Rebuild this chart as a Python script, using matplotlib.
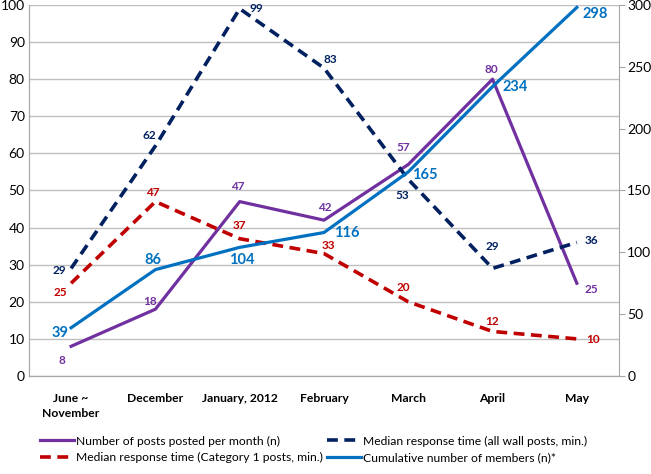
import matplotlib
matplotlib.use("Agg")
import matplotlib.pyplot as plt

plt.rcParams['font.family'] = ['Lato', 'DejaVu Sans']

# Data
months = ["June ~\nNovember", "December", "January, 2012", "February", "March", "April", "May"]
posts = [8, 18, 47, 42, 57, 80, 25]
median_all = [29, 62, 99, 83, 53, 29, 36]
median_cat1 = [25, 47, 37, 33, 20, 12, 10]
members = [39, 86, 104, 116, 165, 234, 298]

# label offsets (pixels) per point
posts_off = [(-9, -14), (-5, 8), (-2, 15), (1, 13), (-5, 17), (-1, 10), (15, -6)]
all_off = [(-12, -2), (-6, 10), (17, 0), (6, 9), (-6, -16), (0, 22), (15, 2)]
cat1_off = [(-11, -9), (-3, 9), (0, 13), (4, 8), (-5, 14), (0, 10), (16, -1)]
members_off = [(-11, -5), (-3, 10), (2, -13), (23, 0), (17, -3), (23, 0), (18, -7)]

PURPLE = "#7030A0"
NAVY = "#002060"
RED = "#C00000"
BLUE = "#0070C0"
GRID = "#BFBFBF"

fig = plt.figure(figsize=(6.51, 4.74), dpi=100)
ax = fig.add_axes([0.0445, 0.2068, 0.9063, 0.7827])
ax2 = ax.twinx()

x = list(range(len(months)))

ax.plot(x, posts, color=PURPLE, lw=2.3, label="Number of posts posted per month (n)", zorder=3)
ax.plot(x, median_cat1, color=RED, lw=2.6, dashes=(3, 1.8), label="Median response time (Category 1 posts, min.)", zorder=3)
ax.plot(x, median_all, color=NAVY, lw=2.6, dashes=(3, 1.8), label="Median response time (all wall posts, min.)", zorder=4)
ax2.plot(x, members, color=BLUE, lw=2.3, label="Cumulative number of members (n)*", zorder=3)


def add_labels(a, vals, offs, col, size, weight):
    for i, v in enumerate(vals):
        a.annotate(str(v), (i, v), xytext=offs[i], textcoords="offset pixels",
                   ha="center", va="center", color=col, fontsize=size, fontweight=weight,
                   annotation_clip=False)


add_labels(ax, posts, posts_off, PURPLE, 8.5, "bold")
add_labels(ax, median_all, all_off, NAVY, 8.5, "bold")
add_labels(ax, median_cat1, cat1_off, RED, 8.5, "bold")
add_labels(ax2, members, members_off, BLUE, 10.5, "bold")

ax.set_xlim(-0.5, len(months) - 0.5)
ax.set_ylim(0, 100)
ax2.set_ylim(0, 300)
ax.set_yticks(range(0, 101, 10))
ax2.set_yticks(range(0, 301, 50))
ax.set_xticks(x)
ax.set_xticklabels(months, fontsize=8.7, fontweight="bold", linespacing=1.45)

ax.yaxis.grid(True, color=GRID, lw=1)
ax.set_axisbelow(True)
ax.tick_params(axis="y", length=0, pad=3, labelsize=10)
ax.tick_params(axis="x", length=0, pad=12)
ax2.tick_params(axis="y", length=4, color="#A6A6A6", pad=2, labelsize=10)

for a in (ax, ax2):
    a.spines["top"].set_visible(False)
    for s in ("left", "right", "bottom"):
        a.spines[s].set_color("#A6A6A6")
ax.spines["right"].set_visible(False)

h1, l1 = ax.get_legend_handles_labels()
h2, l2 = ax2.get_legend_handles_labels()
handles = [h1[0], h1[1], h1[2], h2[0]]
labels = [l1[0], l1[1], l1[2], l2[0]]
fig.legend(handles, labels, loc="lower left", bbox_to_anchor=(0.045, 0.0), ncol=2,
           frameon=False, fontsize=8.7, handlelength=2.8, handletextpad=0.2,
           columnspacing=0.3, labelspacing=0.45)

fig.savefig("out.png", dpi=100)
